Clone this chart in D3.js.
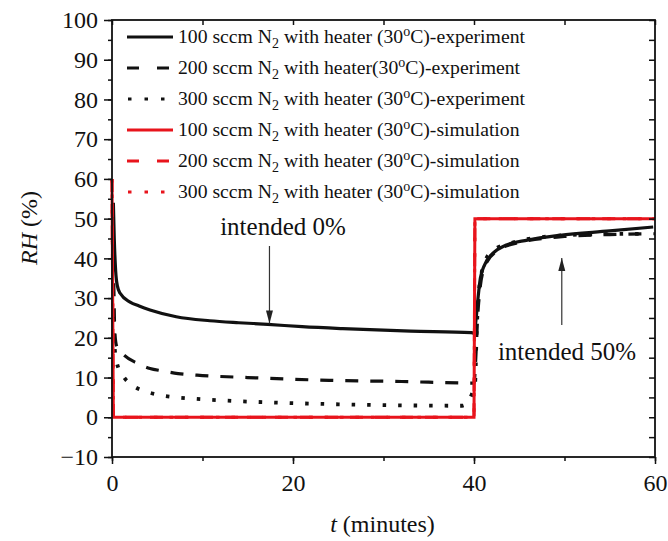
<!DOCTYPE html>
<html>
<head>
<meta charset="utf-8">
<script src="https://cdn.jsdelivr.net/npm/d3@7"></script>
<style>
  body { margin: 0; background: #fff; }
</style>
</head>
<body>
<script>
// simulation (all three flow rates give the same step curve)
const simT  = [0, 0.15, 40, 40.1, 60];
const simRH = [60, 0, 0, 50, 50];

const exp100T  = [0.15, 0.25, 0.4, 0.6, 0.9, 2, 3, 4.2, 7.1, 10.8, 14, 17.2, 21, 25.5, 33, 39.7,
                  40, 40.2, 40.4, 40.7, 41.2, 42.1, 43.5, 45.9, 49.5, 55, 59.8];
const exp100RH = [54, 45, 37, 33, 31.2, 29, 28, 27, 25.3, 24.3, 23.8, 23.4, 22.8, 22.3, 21.7, 21.3,
                  21.2, 24, 29, 35, 38.5, 41.3, 43.3, 44.6, 45.8, 46.9, 47.9];

const exp200T  = [0.12, 0.2, 0.3, 0.5, 1.4, 2.8, 4.2, 5.5, 7.3, 10, 15, 24, 32, 40,
                  40.2, 40.4, 40.7, 41.3, 42.5, 45, 50, 55, 60];
const exp200RH = [40, 33, 22, 18, 15.5, 13.6, 12.3, 11.7, 11, 10.5, 10, 9.3, 9, 8.6,
                  15, 25, 33, 38.5, 41.8, 44, 45.5, 46, 46.2];

const exp300T  = [0.15, 0.3, 0.5, 1.2, 2.3, 4, 5.5, 7.2, 8.8, 11.7, 18, 24.4, 32, 38.7,
                  40.1, 40.3, 40.6, 41.2, 42, 44, 47, 52, 59];
const exp300RH = [25, 17.4, 14, 10.5, 8, 6.3, 5.5, 5, 4.7, 4.3, 3.7, 3.3, 3, 2.9,
                  8, 22, 33, 39, 41.8, 43.8, 45.2, 46, 46.2];

const legendFlow = ["100", "200", "300", "100", "200", "300"];
const legendPre  = [" with heater (30", " with heater(30", " with heater (30",
                    " with heater (30", " with heater (30", " with heater (30"];
const legendKind = ["experiment", "experiment", "experiment", "simulation", "simulation", "simulation"];

const yTicks = [-10, 0, 10, 20, 30, 40, 50, 60, 70, 80, 90, 100];
const xTicks = [0, 20, 40, 60];

const W = 668, H = 541;
const m = {left: 112, right: 655, top: 20, bottom: 457};
const serif = "'Liberation Serif', Tinos, 'Times New Roman', 'DejaVu Serif', serif";

const svg = d3.select("body").append("svg")
    .attr("width", W).attr("height", H)
    .attr("font-family", serif);

const x = d3.scaleLinear().domain([0, 60]).range([m.left, m.right]);
const y = d3.scaleLinear().domain([-10, 100]).range([m.bottom, m.top]);

const zip = (ts, vs) => ts.map((t, i) => [t, vs[i]]);
const smooth = d3.line().x(d => x(d[0])).y(d => y(d[1])).curve(d3.curveMonotoneX);
const straight = d3.line().x(d => x(d[0])).y(d => y(d[1]));

const black = "#111", red = "#e8141c";
const styles = [
  {color: black, dash: null},
  {color: black, dash: "13,12"},
  {color: black, dash: "3.5,12"},
  {color: red, dash: null},
  {color: red, dash: "13,12"},
  {color: red, dash: "3.5,12"}
];

// experiment curves
[[exp100T, exp100RH], [exp200T, exp200RH], [exp300T, exp300RH]].forEach(function(s, i) {
  svg.append("path")
    .attr("d", smooth(zip(s[0], s[1])))
    .attr("fill", "none")
    .attr("stroke", styles[i].color)
    .attr("stroke-width", i === 2 ? 3.8 : 3.2)
    .attr("stroke-dasharray", styles[i].dash);
});

// simulation curves (overlapping)
[3, 4, 5].forEach(function(i) {
  svg.append("path")
    .attr("d", straight(zip(simT, simRH)))
    .attr("fill", "none")
    .attr("stroke", styles[i].color)
    .attr("stroke-width", 3)
    .attr("stroke-dasharray", styles[i].dash);
});

// axes
const minorY = d3.range(-10, 101, 5);
const minorX = d3.range(0, 61, 10);

svg.append("g").attr("transform", `translate(${m.left},0)`)
  .call(d3.axisLeft(y).tickValues(minorY).tickSize(4).tickFormat(""));
svg.append("g").attr("transform", `translate(${m.left},0)`)
  .call(d3.axisLeft(y).tickValues(yTicks).tickSize(8).tickPadding(6).tickFormat(d3.format("d")));

svg.append("g").attr("transform", `translate(0,${m.bottom})`)
  .call(d3.axisBottom(x).tickValues(minorX).tickSize(4).tickFormat(""));
svg.append("g").attr("transform", `translate(0,${m.bottom})`)
  .call(d3.axisBottom(x).tickValues(xTicks).tickSize(7).tickPadding(10).tickFormat(d3.format("d")));

svg.append("g").attr("transform", `translate(0,${m.top})`)
  .call(d3.axisBottom(x).tickValues(minorX).tickSize(5).tickFormat(""));
svg.append("g").attr("transform", `translate(${m.right},0)`)
  .call(d3.axisLeft(y).tickValues(minorY).tickSize(6).tickFormat(""));

svg.selectAll("g").attr("font-family", serif);
svg.selectAll(".domain").remove();
svg.selectAll(".tick line").attr("stroke", black).attr("stroke-width", 1.5);
svg.selectAll(".tick text").attr("font-size", 24).attr("fill", black);

svg.append("rect")
  .attr("x", m.left).attr("y", m.top)
  .attr("width", m.right - m.left).attr("height", m.bottom - m.top)
  .attr("fill", "none").attr("stroke", black).attr("stroke-width", 1.8);

// axis titles
const xt = svg.append("text").attr("x", (m.left + m.right) / 2 - 1).attr("y", 532)
  .attr("text-anchor", "middle").attr("font-size", 24).attr("fill", black);
xt.append("tspan").attr("font-style", "italic").text("t");
xt.append("tspan").text(" (minutes)");

const yt = svg.append("text")
  .attr("transform", "translate(37,228) rotate(-90)")
  .attr("text-anchor", "middle").attr("font-size", 24).attr("fill", black);
yt.append("tspan").attr("font-style", "italic").text("RH");
yt.append("tspan").text(" (%)");

// legend
const lg = svg.append("g");
legendFlow.forEach(function(f, i) {
  const yy = 37 + i * 31;
  lg.append("line")
    .attr("x1", 127).attr("x2", 173).attr("y1", yy).attr("y2", yy)
    .attr("stroke", styles[i].color).attr("stroke-width", 3)
    .attr("stroke-dasharray", styles[i].dash ? (i % 3 === 1 ? "12,18" : "3.5,13") : null)
    .attr("stroke-dashoffset", i % 3 === 2 ? -1 : 0);
  const t = lg.append("text").attr("x", 178).attr("y", yy + 6)
    .attr("font-size", 19.7).attr("fill", black);
  t.append("tspan").text(f + " sccm N");
  t.append("tspan").attr("dy", 5).attr("font-size", 14).text("2");
  t.append("tspan").attr("dy", -5).text(legendPre[i]);
  t.append("tspan").attr("dy", -7).attr("font-size", 14).text("o");
  t.append("tspan").attr("dy", 7).text("C)-" + legendKind[i]);
});

// annotations
function arrow(x0, y0, x1, y1) {
  svg.append("line").attr("x1", x0).attr("y1", y0).attr("x2", x1).attr("y2", y1)
    .attr("stroke", "#333").attr("stroke-width", 1.2);
  const dir = y1 > y0 ? 1 : -1;
  svg.append("path")
    .attr("d", `M${x1},${y1} L${x1 - 3.5},${y1 - dir * 13} L${x1 + 3.5},${y1 - dir * 13} Z`)
    .attr("fill", "#222");
}
arrow(x(17.4), 246, x(17.4), y(23.6));
svg.append("text").attr("x", 283).attr("y", 235).attr("text-anchor", "middle")
  .attr("font-size", 25).attr("fill", black).text("intended 0%");

arrow(x(49.7), 325, x(49.7), 258);
svg.append("text").attr("x", 567).attr("y", 360).attr("text-anchor", "middle")
  .attr("font-size", 25).attr("fill", black).text("intended 50%");
</script>
</body>
</html>
